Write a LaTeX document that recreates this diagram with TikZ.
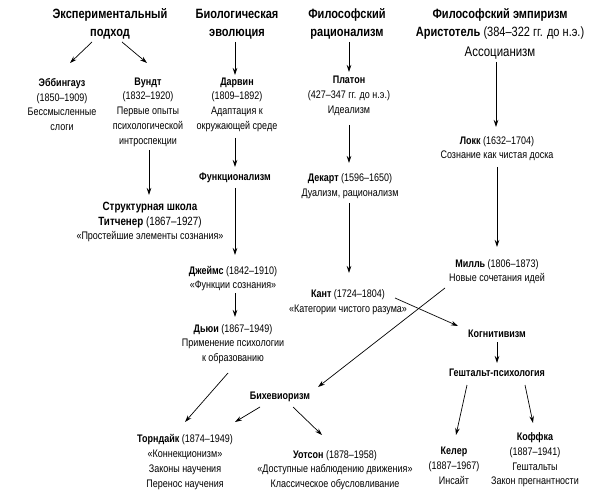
\documentclass[tikz,border=0pt]{standalone}
\usepackage{fontspec}
\setmainfont[FakeStretch=0.82]{Liberation Sans}
\usetikzlibrary{arrows.meta, calc}

\begin{document}
\begin{tikzpicture}[x=1bp, y=-1bp,
		head/.style={font=\fontsize{13.5}{18}\selectfont\bfseries, align=center, inner sep=0},
		txt/.style={font=\fontsize{11}{14.8}\selectfont, align=center, inner sep=0},
		arr/.style={-{Stealth[length=7bp, width=4.5bp]}, line width=0.7bp}]
	\useasboundingbox (0,0) rectangle (595,497);
	% top row
	\node[head] (exp) at (110,24) {Экспериментальный\\подход};
	\node[head] (bio) at (237,24) {Биологическая\\эволюция};
	\node[head] (rat) at (347,24) {Философский\\рационализм};
	\node[head] (emp) at (500,24) {Философский эмпиризм\\Аристотель {\mdseries (384–322 гг. до н.э.)}};
	\node[txt, font=\fontsize{14}{16}\selectfont] (ass) at (500,53) {Ассоцианизм};
	% people
	\node[txt] (ebb) at (62,104.5) {\textbf{Эббингауз}\\(1850–1909)\\Бессмысленные\\слоги};
	\node[txt] (wundt) at (148,112) {\textbf{Вундт}\\(1832–1920)\\Первые опыты\\психологической\\интроспекции};
	\node[txt] (darwin) at (237,104.5) {\textbf{Дарвин}\\(1809–1892)\\Адаптация к\\окружающей среде};
	\node[txt] (plato) at (349,96) {\textbf{Платон}\\(427–347 гг. до н.э.)\\Идеализм};
	\node[txt] (locke) at (497,148.5) {\textbf{Локк} (1632–1704)\\Сознание как чистая доска};
	\node[txt] (desc) at (350,186) {\textbf{Декарт} (1596–1650)\\Дуализм, рационализм};
	\node[txt] (func) at (235,178) {\textbf{Функционализм}};
	\node[txt, font=\fontsize{12}{15}\selectfont] (struct) at (150,222) {\textbf{Структурная школа}\\\textbf{Титченер} (1867–1927)\\{\fontsize{11}{14.8}\selectfont«Простейшие элементы сознания»}};
	\node[txt] (james) at (233,278.5) {\textbf{Джеймс} (1842–1910)\\«Функции сознания»};
	\node[txt] (dewey) at (233,344) {\textbf{Дьюи} (1867–1949)\\Применение психологии\\к образованию};
	\node[txt] (mill) at (497,271.5) {\textbf{Милль} (1806–1873)\\Новые сочетания идей};
	\node[txt] (kant) at (348,302.5) {\textbf{Кант} (1724–1804)\\«Категории чистого разума»};
	\node[txt] (cog) at (497,334) {\textbf{Когнитивизм}};
	\node[txt] (gest) at (497,373) {\textbf{Гештальт-психология}};
	\node[txt] (behav) at (280,397) {\textbf{Бихевиоризм}};
	\node[txt] (thorn) at (185,462) {\textbf{Торндайк} (1874–1949)\\«Коннекционизм»\\Законы научения\\Перенос научения};
	\node[txt] (watson) at (335,470) {\textbf{Уотсон} (1878–1958)\\«Доступные наблюдению движения»\\Классическое обусловливание};
	\node[txt] (koehler) at (454,466) {\textbf{Келер}\\(1887–1967)\\Инсайт};
	\node[txt] (koffka) at (535,460) {\textbf{Коффка}\\(1887–1941)\\Гештальты\\Закон прегнантности};
	% arrows
	\draw[arr] ($(exp)+(-18,18)$) -- ($(ebb)+(8,-41.5)$);
	\draw[arr] ($(exp)+(12,18)$) -- ($(wundt)+(-1,-49)$);
	\draw[arr] ($(bio)+(-2,18)$) -- ($(darwin)+(-2,-29.5)$);
	\draw[arr] ($(rat)+(2,18)$) -- ($(plato)+(0,-24)$);
	\draw[arr] ($(ass)+(-4,9)$) -- ($(locke)+(-1,-21.5)$);
	\draw[arr] ($(wundt)+(1,38)$) -- ($(struct)+(-1,-27)$);
	\draw[arr] ($(darwin)+(-2,33.5)$) -- ($(func)+(0,-11)$);
	\draw[arr] ($(func)+(0,10)$) -- ($(james)+(2,-23.5)$);
	\draw[arr] ($(james)+(2,14.5)$) -- ($(dewey)+(2,-27)$);
	\draw[arr] ($(plato)+(0,29)$) -- ($(desc)+(-1,-23)$);
	\draw[arr] ($(desc)+(-1,17)$) -- ($(kant)+(1,-29.5)$);
	\draw[arr] ($(locke)+(0,18.5)$) -- ($(mill)+(0,-24.5)$);
	\draw[arr] ($(mill)+(-52,16.5)$) -- ($(behav)+(38,-10)$);
	\draw[arr] ($(kant)+(47,-4.5)$) -- ($(cog)+(-39,-8)$);
	\draw[arr] ($(cog)+(0,8)$) -- ($(gest)+(0,-10)$);
	\draw[arr] ($(gest)+(-30,12)$) -- ($(koehler)+(2,-31)$);
	\draw[arr] ($(gest)+(28,12)$) -- ($(koffka)+(-2,-37)$);
	\draw[arr] ($(dewey)+(-5,29)$) -- ($(thorn)+(0,-40)$);
	\draw[arr] ($(behav)+(-20,10)$) -- ($(thorn)+(50,-40)$);
	\draw[arr] ($(behav)+(13,10)$) -- ($(watson)+(-13,-35)$);
\end{tikzpicture}
\end{document}
